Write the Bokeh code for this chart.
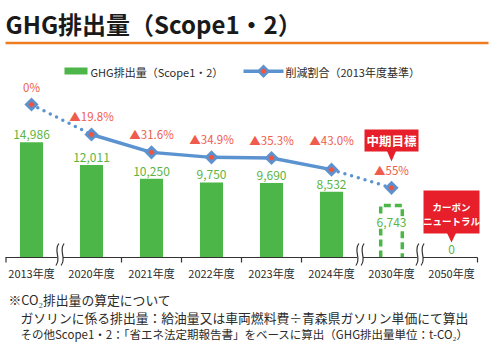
import math
from bokeh.plotting import figure
from bokeh.models import Range1d
from bokeh.core.properties import value
from bokeh.embed import file_html
from bokeh.resources import INLINE

# ---------------- data ----------------
years = ["2013年度", "2020年度", "2021年度", "2022年度", "2023年度", "2024年度", "2030年度", "2050年度"]
emissions = [14986, 12011, 10250, 9750, 9690, 8532, 6743, 0]
emission_text = ["14,986", "12,011", "10,250", "9,750", "9,690", "8,532", "6,743", "0"]
n_actual = 6                      # 2013..2024 are actual values, 2030 / 2050 are targets
reduction = [0, 19.8, 31.6, 34.9, 35.3, 43.0, 55.0]      # 2013..2030
reduction_text = ["0%", "▲19.8%", "▲31.6%", "▲34.9%", "▲35.3%", "▲43.0%", "▲55%"]
breaks_after = [0, 5, 6]          # axis breaks between these categories and the next
title_text = "GHG排出量（Scope1・2）"
legend_bar_text = "GHG排出量（Scope1・2）"
legend_line_text = "削減割合（2013年度基準）"
callout_mid = "中期目標"
callout_cn = ["カーボン", "ニュートラル"]
notes = [
    "※CO₂排出量の算定について",
    "ガソリンに係る排出量：給油量又は車両燃料費÷青森県ガソリン単価にて算出",
    "その他Scope1・2：「省エネ法定期報告書」をベースに算出（GHG排出量単位：t-CO₂）",
]

# ---------------- styling / layout ----------------
W, H = 493, 354
FONT = value("Noto Sans CJK JP")
GREEN = "#4cb748"
BLUE = "#5b93d0"
RED_DOT = "#f0553f"
PCT_RED = "#ef5b4c"
LABEL_GREEN = "#5bb542"
TEXT = "#2b2b2b"
CALLOUT = "#e61f2a"
ORANGE = "#ee7d22"

X0, X1 = -31 / 60, (W - 31) / 60          # category index range
Y0, Y1 = -12607, 33402                    # emission value range
P0, P1 = 165.02, -68.65                   # reduction % range (inverted)
kx = W / (X1 - X0)                        # px per category
ky = H / (Y1 - Y0)                        # px per t-CO2
kp = H / (P0 - P1)                        # px per %

bar_w = 0.385
value_raise_px = [7.5, 7.5, 7.5, 7.5, 7.5, 7.5, -17, 8]
pct_raise_px = [18, 18, 18, 18, 18, 30, 18]

p = figure(width=W, height=H, x_range=Range1d(X0, X1), y_range=Range1d(Y0, Y1),
           min_border=0, toolbar_location=None, output_backend="svg",
           x_axis_type=None, y_axis_type=None, title=None)
p.grid.visible = False
p.outline_line_color = None
p.background_fill_color = "white"
p.border_fill_color = "white"
p.extra_x_ranges = {"px": Range1d(0, W)}
p.extra_y_ranges = {"px": Range1d(H, 0), "pct": Range1d(P0, P1)}

PX = dict(x_range_name="px", y_range_name="px")

# title + rule
p.text(x=[5], y=[23], text=[title_text], text_font=FONT, text_font_size="24px",
       text_font_style="bold", text_color="#1a1a1a", text_baseline="middle", **PX)
p.segment(x0=[5], y0=[42.5], x1=[488], y1=[42.5], line_color=ORANGE, line_width=2.5, **PX)

# legend
p.quad(left=[64], right=[87], top=[67], bottom=[74], fill_color=GREEN, line_color=None, **PX)
p.text(x=[90], y=[71], text=[legend_bar_text], text_font=FONT, text_font_size="11px",
       text_color=TEXT, text_baseline="middle", **PX)
p.segment(x0=[243], y0=[70.7], x1=[283], y1=[70.7], line_color=BLUE, line_width=3.5, **PX)
p.scatter(x=[263], y=[70.7], marker="square", angle=math.pi / 4, size=9.5,
          fill_color=BLUE, line_color=None, **PX)
p.scatter(x=[263], y=[70.7], marker="square", angle=math.pi / 4, size=4.5,
          fill_color=RED_DOT, line_color=None, **PX)
p.text(x=[285], y=[71], text=[legend_line_text], text_font=FONT, text_font_size="11px",
       text_color=TEXT, text_baseline="middle", **PX)

# bars (actual)
idx = list(range(len(years)))
p.vbar(x=idx[:n_actual], top=emissions[:n_actual], width=bar_w,
       fill_color=GREEN, line_color=None)

# 2030 target: dashed outline
t = n_actual
hw = 0.36 / 2
p.line(x=[t - hw, t - hw, t + hw, t + hw], y=[0, emissions[t], emissions[t], 0],
       line_color=GREEN, line_width=3.5, line_dash="7 4", line_join="miter")
# white ground under the target's value label
ly = emissions[t] + value_raise_px[t] / ky
p.rect(x=[t], y=[ly], width=31 / kx, height=12 / ky, fill_color="white", line_color=None)

# x axis (drawn through the category scale)
p.segment(x0=[X0 + 5 / kx], y0=[0], x1=[idx[-1] + 26 / kx], y1=[0],
          line_color="#333333", line_width=1.2)
tick_pos = [X0 + 5.5 / kx] + [i + 0.5 for i in idx[:-1] if i not in breaks_after] + [idx[-1] + 26 / kx]
p.segment(x0=tick_pos, y0=[0] * len(tick_pos), x1=tick_pos, y1=[-5 / ky] * len(tick_pos),
          line_color="#333333", line_width=1.2)
p.text(x=idx, y=[-16 / ky] * len(idx), text=years, text_font=FONT, text_font_size="11px",
       text_color=TEXT, text_align="center", text_baseline="middle")

# axis breaks
for b in breaks_after:
    c = b + 0.5 - 1.5 / kx
    p.quad(left=[c - 3 / kx], right=[c + 3 / kx], top=[254.5], bottom=[259.5],
           fill_color="white", line_color=None, y_range_name="px")
    for d in (-2.6, 2.6):
        cc = c + d / kx
        p.bezier(x0=[cc + 1.5 / kx], y0=[243], x1=[cc - 1.5 / kx], y1=[265],
                 cx0=[cc - 4.5 / kx], cy0=[251], cx1=[cc + 4.5 / kx], cy1=[257],
                 line_color="#333333", line_width=1.2, y_range_name="px")

# reduction line
pi_ = list(range(len(reduction)))
p.line(x=pi_[0:2], y=reduction[0:2], line_color=BLUE, line_width=3.5,
       line_dash="0 7", line_cap="round", y_range_name="pct")
p.line(x=pi_[n_actual - 1:], y=reduction[n_actual - 1:], line_color=BLUE, line_width=3.5,
       line_dash="0 7", line_cap="round", y_range_name="pct")
p.line(x=pi_[1:n_actual], y=reduction[1:n_actual], line_color=BLUE, line_width=3.5,
       line_join="round", y_range_name="pct")
p.scatter(x=pi_, y=reduction, marker="square", angle=math.pi / 4, size=10,
          fill_color=BLUE, line_color=None, y_range_name="pct")
p.scatter(x=pi_, y=reduction, marker="square", angle=math.pi / 4, size=4.5,
          fill_color=RED_DOT, line_color=None, y_range_name="pct")

# reduction labels
p.text(x=pi_, y=[r - d / kp for r, d in zip(reduction, pct_raise_px)], text=reduction_text,
       text_font=FONT, text_font_size="11.5px", text_color=PCT_RED,
       text_align="center", text_baseline="middle", y_range_name="pct")

# value labels
p.text(x=idx, y=[e + d / ky for e, d in zip(emissions, value_raise_px)], text=emission_text,
       text_font=FONT, text_font_size="12px", text_color=LABEL_GREEN,
       text_align="center", text_baseline="middle")

# callout: mid-term target
m = n_actual
p.quad(left=[m - 27 / kx], right=[m + 27 / kx], top=[129], bottom=[151],
       fill_color=CALLOUT, line_color=None, y_range_name="px")
p.patch(x=[m - 4.5 / kx, m + 4.5 / kx, m], y=[150.5, 150.5, 161],
        fill_color=CALLOUT, line_color=None, y_range_name="px")
p.text(x=[m], y=[140], text=[callout_mid], text_font=FONT, text_font_size="12.5px",
       text_font_style="bold", text_color="white", text_align="center",
       text_baseline="middle", y_range_name="px")

# callout: carbon neutral
c = len(years) - 1
p.quad(left=[c - 28 / kx], right=[c + 28 / kx], top=[190], bottom=[233],
       fill_color=CALLOUT, line_color=None, y_range_name="px")
p.patch(x=[c - 4.5 / kx, c + 4.5 / kx, c], y=[232.5, 232.5, 242],
        fill_color=CALLOUT, line_color=None, y_range_name="px")
p.text(x=[c, c], y=[206, 220], text=callout_cn, text_font=FONT, text_font_size="9.5px",
       text_font_style="bold", text_color="white", text_align="center",
       text_baseline="middle", y_range_name="px")

# footnotes
p.text(x=[8, 20], y=[299, 316.5], text=notes[:2], text_font=FONT, text_font_size="12.8px",
       text_color=TEXT, text_baseline="middle", **PX)
p.text(x=[20], y=[333.5], text=notes[2:], text_font=FONT, text_font_size="11.5px",
       text_color=TEXT, text_baseline="middle", **PX)

open("out.html", "w").write(file_html(p, INLINE))
